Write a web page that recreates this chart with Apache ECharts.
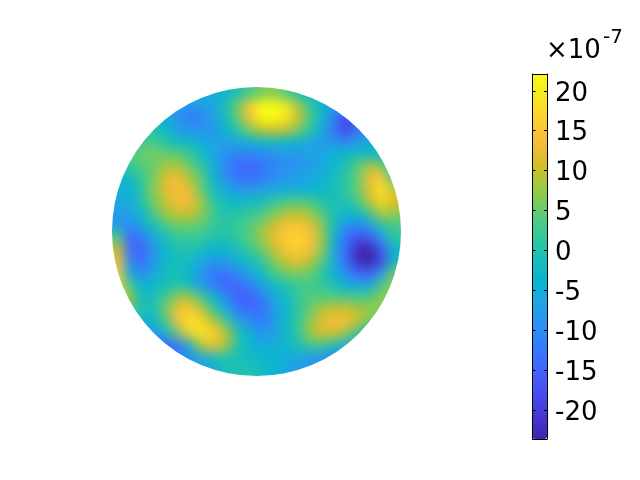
<!DOCTYPE html>
<html>
<head>
<meta charset="utf-8">
<script src="https://cdn.jsdelivr.net/npm/echarts@6/dist/echarts.min.js"></script>
<style>
html,body{margin:0;padding:0;background:#fff;width:640px;height:480px;overflow:hidden}
#clip{position:absolute;left:0;top:0;width:640px;height:480px;clip-path:circle(144.5px at 256.5px 231.5px)}
#disk{position:absolute;left:100px;top:75.5px;width:312px;height:312px;filter:blur(6px)}
#bar{position:absolute;left:0;top:0;width:640px;height:480px}
</style>
</head>
<body>
<div id="clip"><div id="disk"></div></div>
<div id="bar"></div>
<script>
// surface values, units of 1e-7, rows top to bottom, 12px cells
var rows = [
  [-4,-4,-4,-4,-4,-4,-4,-4,-5,-3,0,3,6,7,4,0,-3,-4,-4,-4,-4,-4,-4,-4],
  [-7,-7,-7,-7,-7,-8,-9,-8,-6,-1,6,15,23,25,19,9,2,-3,-8,-12,-12,-12,-12,-12],
  [-4,-4,-4,-4,-5,-9,-12,-11,-7,-2,5,14,22,25,19,11,3,-3,-11,-19,-15,-12,-12,-12],
  [1,1,1,1,-3,-7,-9,-9,-8,-4,1,6,10,11,10,6,1,-5,-13,-19,-13,-8,-8,-8],
  [2,2,3,3,0,-2,-3,-5,-7,-7,-6,-4,-3,-2,-3,-4,-6,-8,-9,-10,-8,-5,-3,-3],
  [3,4,5,6,5,4,2,-2,-6,-10,-11,-11,-10,-9,-8,-8,-7,-6,-4,-3,-2,-3,-4,-4],
  [-1,2,4,5,8,9,5,1,-5,-11,-14,-15,-13,-11,-10,-9,-8,-6,-3,0,4,9,6,-2],
  [-3,-2,2,6,12,13,9,4,-3,-9,-13,-14,-12,-10,-8,-7,-6,-4,-1,1,5,14,15,3],
  [-5,-4,1,7,12,14,12,5,-2,-6,-8,-8,-7,-6,-5,-5,-4,-3,-1,1,5,12,19,11],
  [-6,-5,0,6,10,14,13,8,1,-2,-3,-2,-1,2,3,4,3,0,-1,0,3,10,17,11],
  [-8,-7,-3,3,8,10,10,7,2,0,1,2,3,6,9,10,8,4,0,-3,-3,2,9,7],
  [-8,-11,-6,-1,3,5,5,4,2,1,2,4,7,11,14,15,13,7,-2,-9,-11,-8,0,3],
  [4,-14,-13,-6,-1,2,2,2,0,0,2,4,8,12,16,17,15,8,-4,-13,-18,-16,-8,1],
  [10,-14,-15,-8,-3,0,0,-2,-4,-3,-1,2,5,10,15,16,14,7,-5,-14,-23,-26,-16,-3],
  [14,-10,-14,-8,-3,-1,-2,-6,-9,-8,-5,-2,1,6,10,12,9,4,-6,-13,-22,-26,-18,-2],
  [16,-5,-10,-6,-1,-1,-4,-9,-13,-13,-10,-6,-2,3,5,6,5,1,-4,-10,-14,-15,-7,6],
  [16,3,-3,-3,-1,1,-2,-7,-12,-15,-15,-12,-7,-3,0,2,3,2,0,-4,-6,-5,4,7],
  [12,8,-3,0,3,8,9,3,-3,-10,-15,-16,-12,-6,-2,2,4,4,4,4,3,4,7,7],
  [4,4,0,-1,6,14,16,10,2,-5,-12,-14,-14,-8,-3,1,5,9,11,11,9,8,6,6],
  [-5,-5,-5,-3,3,14,19,17,10,3,-6,-10,-12,-8,-3,2,7,12,14,14,10,5,3,3],
  [-8,-8,-8,-8,-5,5,15,19,16,10,0,-4,-9,-7,-3,1,8,11,10,7,1,-4,-4,-4],
  [-15,-15,-15,-15,-15,-14,-3,9,13,8,0,-3,-5,-5,-3,-1,2,2,-1,-6,-9,-9,-9,-9],
  [-11,-11,-11,-11,-11,-11,-10,-6,-1,0,-1,-2,-3,-4,-5,-6,-8,-9,-10,-10,-10,-10,-10,-10],
  [-6,-6,-6,-6,-6,-6,-6,-6,-5,-1,0,0,-2,-4,-6,-8,-8,-8,-8,-8,-8,-8,-8,-8]
];
var tickValues = [-20,-15,-10,-5,0,5,10,15,20];
var barMin = -23.6;
var barMax = 22.1;
var parula = ['#3e26a8','#4537d5','#484df0','#4563fd','#327cfc','#2b91ef','#20a5e3','#08b5d0','#19bfb6','#37c897','#64cd6f','#9dc943','#d1bf27','#f8ba3d','#fccf30','#f5e924','#f9fb15'];
var fontName = 'DejaVu Sans';

// repeat the outer cells so the blur does not fade at the edge of the canvas
var padded = [rows[0]].concat(rows, [rows[rows.length - 1]]).map(function (r) {
  return [r[0]].concat(r, [r[r.length - 1]]);
});
var cells = [];
padded.forEach(function (r, i) {
  r.forEach(function (v, j) {
    cells.push([j, padded.length - 1 - i, v]);
  });
});
var idx = padded.map(function (r, i) { return i; });

var diskChart = echarts.init(document.getElementById('disk'));
diskChart.setOption({
  animation: false,
  grid: { left: 0, right: 0, top: 0, bottom: 0 },
  xAxis: { type: 'category', data: idx, show: false },
  yAxis: { type: 'category', data: idx, show: false },
  visualMap: { show: false, min: barMin, max: barMax, inRange: { color: parula } },
  series: [{ type: 'heatmap', data: cells, progressive: 0, itemStyle: { borderWidth: 0 } }]
});

var barChart = echarts.init(document.getElementById('bar'));
var tickLine = { show: true, inside: true, length: 3, lineStyle: { color: '#000', width: 1 }, customValues: tickValues };
barChart.setOption({
  animation: false,
  textStyle: { fontFamily: fontName },
  grid: { left: 532.5, top: 74, width: 14.5, height: 365 },
  xAxis: [
    { type: 'value', min: 0, max: 1, position: 'bottom', z: 10, axisLine: { show: true, onZero: false, lineStyle: { color: '#000', width: 1 } }, axisTick: { show: false }, axisLabel: { show: false }, splitLine: { show: false } },
    { type: 'value', min: 0, max: 1, position: 'top', z: 10, axisLine: { show: true, onZero: false, lineStyle: { color: '#000', width: 1 } }, axisTick: { show: false }, axisLabel: { show: false }, splitLine: { show: false } }
  ],
  yAxis: [
    { type: 'value', min: barMin, max: barMax, position: 'right', z: 10,
      axisLine: { show: true, onZero: false, lineStyle: { color: '#000', width: 1 } },
      axisTick: tickLine,
      axisLabel: { show: true, customValues: tickValues, color: '#000', margin: 8,
        formatter: function (v) { return '{t|' + v + '}'; },
        rich: { t: { fontFamily: fontName, fontSize: 26, color: '#000', padding: [6, 0, 0, 0] } } },
      splitLine: { show: false } },
    { type: 'value', min: barMin, max: barMax, position: 'left', z: 10,
      axisLine: { show: true, onZero: false, lineStyle: { color: '#000', width: 1 } },
      axisTick: tickLine,
      axisLabel: { show: false },
      splitLine: { show: false } }
  ],
  visualMap: {
    type: 'continuous', min: barMin, max: barMax, left: 532.5, top: 74, padding: 0,
    itemWidth: 14.5, itemHeight: 365, text: null, calculable: false, realtime: false,
    showLabel: false, inRange: { color: parula }
  },
  graphic: [
    { type: 'text', left: 546, top: 38, style: { text: '×10', font: '26px "DejaVu Sans"', fill: '#000' } },
    { type: 'text', left: 603, top: 28, style: { text: '-7', font: '20px "DejaVu Sans"', fill: '#000' } }
  ],
  series: []
});
</script>
</body>
</html>
